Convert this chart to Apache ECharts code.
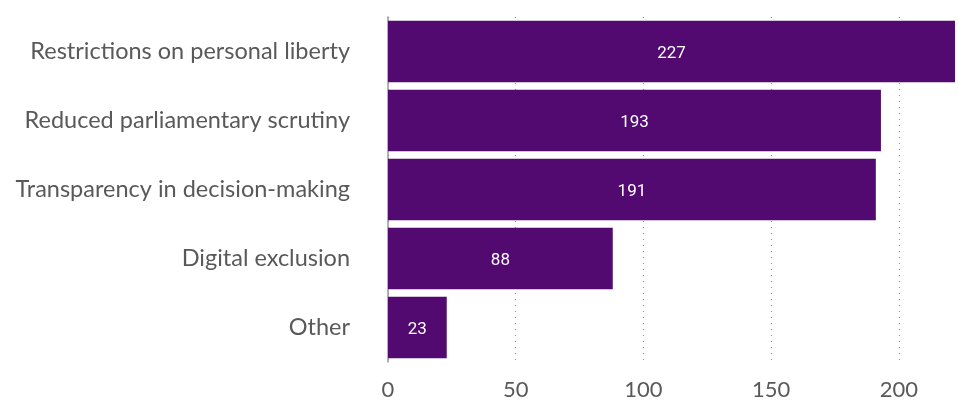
<!DOCTYPE html>
<html><head><meta charset="utf-8">
<script src="https://cdn.jsdelivr.net/npm/echarts@6/dist/echarts.min.js"></script>
<style>html,body{margin:0;padding:0;background:#fff}#c{width:958px;height:401px}</style>
</head><body><div id="c"></div>
<script>
const categories = ["Restrictions on personal liberty","Reduced parliamentary scrutiny","Transparency in decision-making","Digital exclusion","Other"];
const values = [227,193,191,88,23];
const xTicks = [0,50,100,150,200];

const chart = echarts.init(document.getElementById('c'));
chart.setOption({
  animation:false,
  grid:{left:388,right:0,top:17,bottom:34,containLabel:false},
  xAxis:{type:'value',min:0,max:222,interval:50,
    axisLine:{show:false},axisTick:{show:false},
    axisLabel:{color:'#595959',fontSize:22,fontFamily:'Lato',margin:17,
      formatter:v=>xTicks.includes(v)?String(v):''},
    splitLine:{show:true,showMaxLine:false,lineStyle:{type:[1,5],color:'#999',width:1.2}}},
  yAxis:{type:'category',data:categories,inverse:true,
    axisLine:{show:true,lineStyle:{color:'#999',width:1.5}},axisTick:{show:false},
    axisLabel:{color:'#595959',fontSize:23.5,fontFamily:'Lato',margin:38,padding:[5,0,0,0]}},
  series:[{type:'bar',data:values,barCategoryGap:'11%',clip:true,
    itemStyle:{color:'#520a70'},
    label:{show:true,position:'inside',color:'#fff',fontSize:17,fontFamily:'Roboto',offset:[0,2]}}]
});
</script></body></html>
